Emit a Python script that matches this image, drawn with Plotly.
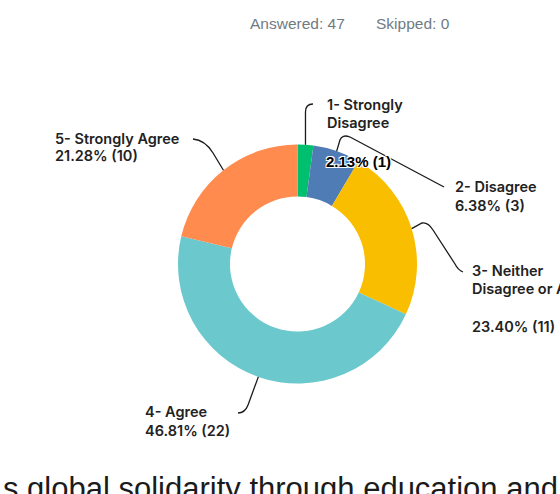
import math
import plotly.graph_objects as go

W, H = 560, 494

# Survey responses
categories = ["1- Strongly Disagree", "2- Disagree", "3- Neither Disagree or Agree", "4- Agree", "5- Strongly Agree"]
label_lines = [["1- Strongly", "Disagree"], ["2- Disagree"], ["3- Neither", "Disagree or Agree", ""], ["4- Agree"], ["5- Strongly Agree"]]
responses = [1, 3, 11, 22, 10]
answered = 47
skipped = 0
colors = ["#00bf6f", "#507cb6", "#f9be00", "#6bc8cd", "#ff8b4f"]
next_question = "s global solidarity through education and"

total = sum(responses)
pct_text = ["%.2f%% (%d)" % (v / total * 100, v) for v in responses]

# donut geometry (pixels)
CX, CY, R = 297.5, 264.0, 119.5
HOLE = 0.565


def px(x):
    return x / W


def py(y):
    return 1 - y / H


fig = go.Figure()
fig.add_trace(go.Pie(
    values=responses, labels=categories, sort=False, direction="clockwise", rotation=0,
    hole=HOLE, textinfo="none", hoverinfo="label+value+percent", showlegend=False,
    marker=dict(colors=colors, line=dict(width=0)),
    domain=dict(x=[px(CX - R), px(CX + R)], y=[py(CY + R), py(CY - R)]),
))

# leader lines: start on the outer edge at each slice's mid angle
leader_tails = [
    [("L", 305.5, 112), ("Q", 305.5, 104, 313, 104)],
    [("L", 340, 140), ("Q", 342, 134, 350, 137), ("L", 444, 187)],
    [("L", 422, 223), ("Q", 428, 222, 433, 230), ("L", 455, 264), ("Q", 458, 270, 463, 272)],
    [("L", 248, 405), ("Q", 245, 413, 238, 413)],
    [("L", 213, 153), ("Q", 205, 140, 193, 139)],
]
# label positions: left x, first-line y, line step
label_pos = [(325, 104, 18), (453, 187, 18.5), (470, 270, 18.7), (143, 411.3, 19), (53, 138.5, 16.7)]

shapes = []
annotations = []
LABEL_FONT = dict(family="Inter", size=14.5, color="#222222", weight=600)
cum = 0
for i, v in enumerate(responses):
    ang = math.radians(360 * (cum + v / 2) / total)
    cum += v
    ax, ay = CX + R * math.sin(ang), CY - R * math.cos(ang)
    path = "M %.4f,%.4f" % (px(ax), py(ay))
    for seg in leader_tails[i]:
        if seg[0] == "L":
            path += " L %.4f,%.4f" % (px(seg[1]), py(seg[2]))
        else:
            path += " Q %.4f,%.4f %.4f,%.4f" % (px(seg[1]), py(seg[2]), px(seg[3]), py(seg[4]))
    shapes.append(dict(type="path", path=path, xref="paper", yref="paper",
                       line=dict(color="#1a1a1a", width=1.3)))

    lx, ly, step = label_pos[i]
    lines = label_lines[i] + ([] if i == 0 else [pct_text[i]])
    for k, t in enumerate(lines):
        if not t:
            continue
        annotations.append(dict(text=t, x=px(lx), y=py(ly + k * step), xref="paper", yref="paper",
                                xanchor="left", yanchor="middle", showarrow=False, font=LABEL_FONT))

# percentage of the smallest slice, drawn over the ring with a white halo
annotations.append(dict(
    text=pct_text[0], x=px(324.3), y=py(161.3), xref="paper", yref="paper",
    xanchor="left", yanchor="middle", showarrow=False,
    font=dict(family="Liberation Sans", size=15, color="#000000", weight="bold",
              shadow="-1px -1px 0 #fff, 1px -1px 0 #fff, -1px 1px 0 #fff, 1px 1px 0 #fff"),
))

# response summary
HEAD_FONT = dict(family="Liberation Sans", size=15.5, color="#6f7b83")
annotations.append(dict(text="Answered: %d" % answered, x=px(248), y=py(23), xref="paper", yref="paper",
                        xanchor="left", yanchor="middle", showarrow=False, font=HEAD_FONT))
annotations.append(dict(text="Skipped: %d" % skipped, x=px(374), y=py(23), xref="paper", yref="paper",
                        xanchor="left", yanchor="middle", showarrow=False, font=HEAD_FONT))

# start of the following question
annotations.append(dict(text=next_question, x=px(1), y=py(488), xref="paper", yref="paper",
                        xanchor="left", yanchor="middle", showarrow=False,
                        font=dict(family="Liberation Sans", size=31, color="#1b1b1b")))

fig.update_layout(
    width=W, height=H, margin=dict(l=0, r=0, t=0, b=0),
    paper_bgcolor="white", plot_bgcolor="white",
    shapes=shapes, annotations=annotations,
)
fig.write_html("out.html")
